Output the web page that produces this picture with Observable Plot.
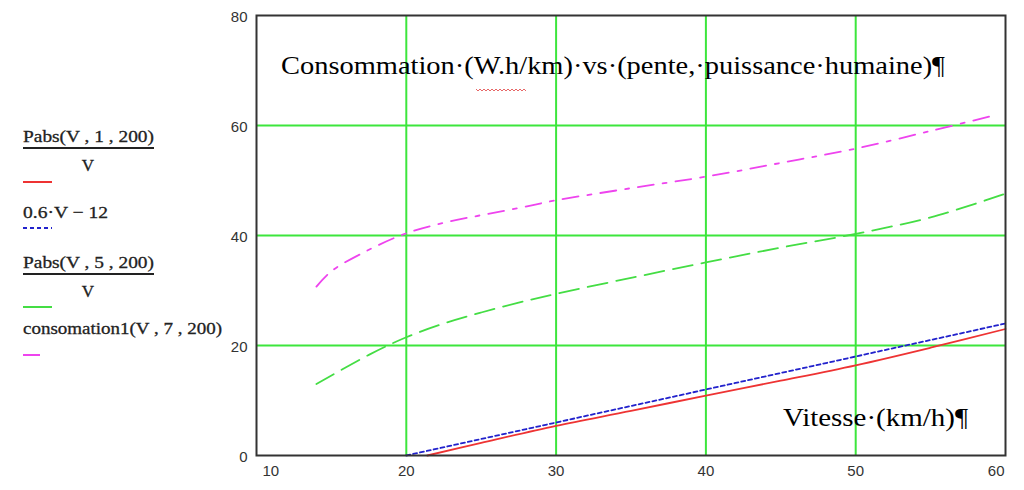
<!DOCTYPE html>
<html><head><meta charset="utf-8">
<script src="https://cdn.jsdelivr.net/npm/d3@7"></script>
<script src="https://cdn.jsdelivr.net/npm/@observablehq/plot@0.6"></script>
<style>html,body{margin:0;padding:0;background:#fff;overflow:hidden}</style>
</head><body><div id="chart"></div>
<script>
const xTicks = [10, 20, 30, 40, 50, 60];
const yTicks = [0, 20, 40, 60, 80];
const xGrid = [20, 30, 40, 50];
const yGrid = [20, 40, 60];

// Pabs(V,1,200)/V  (red, solid)
const vRed = [21.4, 25, 30, 35, 40, 45, 50, 55, 60];
const pabs1 = [0, 2.3, 5.4, 8.1, 10.9, 13.6, 16.4, 19.6, 23.0];
// 0.6·V − 12  (blue, dotted)
const vBlue = [20, 30, 40, 50, 60];
const linear = [0, 6, 12, 18, 24];
// Pabs(V,5,200)/V  (green, dashed)
const vGreen = [14, 17.5, 20, 22.5, 25, 27.5, 30, 35, 40, 45, 50, 55, 60];
const pabs5 = [13.0, 18.3, 21.5, 24.0, 26.0, 27.8, 29.4, 32.3, 35.1, 37.8, 40.3, 43.3, 47.6];
// consomation1(V,7,200)  (magenta, dash-dot)
const vMag = [14, 15, 17.5, 20, 22.5, 25, 27.5, 30, 35, 40, 45, 50, 55, 59.2];
const conso7 = [30.7, 33.5, 37.4, 40.4, 42.3, 43.7, 45.0, 46.4, 48.6, 50.7, 53.2, 55.8, 59.0, 61.8];

const titleText = "Consommation·(W.h/km)·vs·(pente,·puissance·humaine)¶";
const xLabelText = "Vitesse·(km/h)¶";

const rows = (xs, ys) => xs.map((x, i) => ({x, y: ys[i]}));
const tickFont = "'Liberation Sans Narrow', 'Liberation Sans', Arial, sans-serif";

const svg = Plot.plot({
  width: 1024, height: 490,
  marginLeft: 256, marginRight: 19, marginTop: 15, marginBottom: 35,
  x: {domain: [10, 60], axis: null},
  y: {domain: [0, 80], axis: null},
  style: {background: "#fff", fontFamily: tickFont, overflow: "visible"},
  marks: [
    Plot.ruleX(xGrid, {stroke: "#3ce63c", strokeWidth: 2}),
    Plot.ruleY(yGrid, {stroke: "#3ce63c", strokeWidth: 2}),
    Plot.line(rows(vGreen, pabs5), {x: "x", y: "y", stroke: "#44dd44", strokeWidth: 1.8, strokeDasharray: "20,9", curve: "catmull-rom"}),
    Plot.line(rows(vMag, conso7), {x: "x", y: "y", stroke: "#ee44ee", strokeWidth: 1.8, strokeDasharray: "16,9,4,9", curve: "catmull-rom"}),
    Plot.line(rows(vRed, pabs1), {x: "x", y: "y", stroke: "#ee3333", strokeWidth: 1.8, curve: "catmull-rom"}),
    Plot.line(rows(vBlue, linear), {x: "x", y: "y", stroke: "#2222cc", strokeWidth: 1.8, strokeDasharray: "4,3"}),
    Plot.frame({stroke: "#333", strokeWidth: 2}),
    Plot.text(yTicks, {x: 10, y: d => d, text: d => String(d), textAnchor: "end", dx: -9, dy: 2, fontSize: 15, fill: "#333"}),
    Plot.text(xTicks.slice(1, -1), {x: d => d, y: 0, text: d => String(d), dy: 16, fontSize: 15, fill: "#333"}),
    Plot.text(xTicks.slice(0, 1), {x: d => d, y: 0, text: d => String(d), dy: 16, dx: 6, textAnchor: "start", fontSize: 15, fill: "#333"}),
    Plot.text(xTicks.slice(-1), {x: d => d, y: 0, text: d => String(d), dy: 16, dx: -1, textAnchor: "end", fontSize: 15, fill: "#333"})
  ]
});
document.getElementById("chart").appendChild(svg);

const s = d3.select(svg);
const serif = "'Liberation Serif', 'Times New Roman', serif";
s.append("text").attr("x", 281).attr("y", 74).attr("text-anchor", "start").attr("font-family", serif).attr("font-size", 26)
  .attr("textLength", 664).attr("lengthAdjust", "spacingAndGlyphs").attr("fill", "#000").text(titleText);
// spell-check squiggle
let sq = "M476,89";
for (let x = 476, k = 0; x < 526; x += 2, k++) sq += `L${x + 2},${k % 2 ? 89 : 91}`;
s.append("path").attr("d", sq).attr("fill", "none").attr("stroke", "#e04040").attr("stroke-width", 0.8);
s.append("text").attr("x", 783).attr("y", 426).attr("text-anchor", "start").attr("font-family", serif).attr("font-size", 25)
  .attr("textLength", 185).attr("lengthAdjust", "spacingAndGlyphs").attr("fill", "#000").text(xLabelText);

// legend
const lg = s.append("g").attr("font-family", serif).attr("font-size", 17).attr("fill", "#222")
  .attr("stroke", "#222").attr("stroke-width", 0.3).attr("text-anchor", "start");
function frac(top, y) {
  lg.append("text").attr("x", 23).attr("y", y).attr("textLength", 131).attr("lengthAdjust", "spacingAndGlyphs").text(top);
  lg.append("line").attr("x1", 23).attr("x2", 154).attr("y1", y + 6).attr("y2", y + 6).attr("stroke", "#222").attr("stroke-width", 2);
  lg.append("text").attr("x", 88).attr("y", y + 29).attr("text-anchor", "middle").text("V");
}
frac("Pabs(V , 1 , 200)", 142);
lg.append("line").attr("x1", 23).attr("x2", 52).attr("y1", 182).attr("y2", 182).attr("stroke", "#ee3333").attr("stroke-width", 2);
lg.append("text").attr("x", 23).attr("y", 218).attr("textLength", 85).attr("lengthAdjust", "spacingAndGlyphs").text("0.6·V − 12");
lg.append("line").attr("x1", 23).attr("x2", 52).attr("y1", 228).attr("y2", 228).attr("stroke", "#2222cc").attr("stroke-width", 2).attr("stroke-dasharray", "4,3");
frac("Pabs(V , 5 , 200)", 268);
lg.append("line").attr("x1", 23).attr("x2", 52).attr("y1", 307).attr("y2", 307).attr("stroke", "#44dd44").attr("stroke-width", 2);
lg.append("text").attr("x", 23).attr("y", 334).attr("textLength", 199).attr("lengthAdjust", "spacingAndGlyphs").text("consomation1(V , 7 , 200)");
lg.append("line").attr("x1", 23).attr("x2", 40).attr("y1", 355).attr("y2", 355).attr("stroke", "#ee44ee").attr("stroke-width", 2);
</script>
</body></html>
